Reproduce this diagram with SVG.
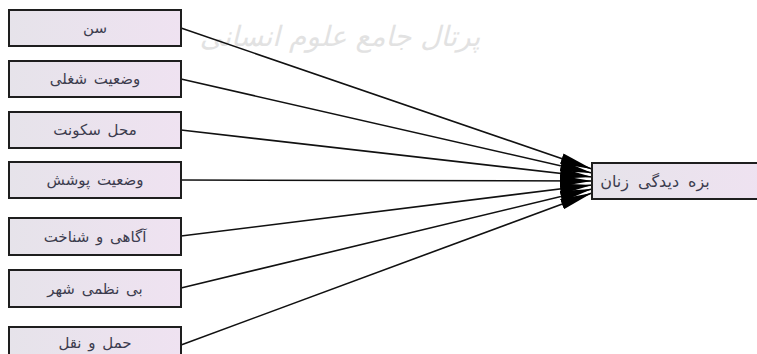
<svg xmlns="http://www.w3.org/2000/svg" width="757" height="354" viewBox="0 0 757 354">
<defs>
<linearGradient id="boxfill" x1="0" y1="0" x2="1" y2="0">
<stop offset="0" stop-color="#e6e3ea"/>
<stop offset="1" stop-color="#efe2f1"/>
</linearGradient>
<marker id="arr" viewBox="0 0 32 11" markerWidth="32" markerHeight="11" markerUnits="userSpaceOnUse" refX="32" refY="5.5" orient="auto">
<path d="M0,0 L32,5.5 L0,11 z" fill="#000"/>
</marker>
</defs>
<style>
.box{fill:url(#boxfill);stroke:#1e1e1e;stroke-width:2}
.lbl{font-family:"DejaVu Sans",sans-serif;font-size:15px;fill:#3c3c4e;text-anchor:middle;word-spacing:2px}
.conn{stroke:#111;stroke-width:1.6;fill:none;marker-end:url(#arr)}
.wm{font-family:"DejaVu Sans",sans-serif;font-size:28px;fill:#e2e2e2;text-anchor:middle;font-style:italic}
</style>
<rect width="757" height="354" fill="#ffffff"/>
<text class="wm" x="340" y="46" direction="rtl">پرتال جامع علوم انسانی</text>
<g id="connectors">
<line class="conn" x1="181" y1="28" x2="592" y2="169"/>
<line class="conn" x1="181" y1="79" x2="592" y2="173"/>
<line class="conn" x1="181" y1="130" x2="592" y2="177"/>
<line class="conn" x1="181" y1="180" x2="592" y2="181"/>
<line class="conn" x1="181" y1="236" x2="592" y2="185"/>
<line class="conn" x1="181" y1="288" x2="592" y2="189"/>
<line class="conn" x1="181" y1="345" x2="592" y2="193"/>
</g>
<g id="n1"><rect class="box" x="9" y="10" width="172" height="36"/><text class="lbl" x="95" y="33" direction="rtl">سن</text></g>
<g id="n2"><rect class="box" x="9" y="61" width="172" height="36"/><text class="lbl" x="95" y="84" direction="rtl">وضعیت شغلی</text></g>
<g id="n3"><rect class="box" x="9" y="112" width="172" height="36"/><text class="lbl" x="95" y="135" direction="rtl">محل سکونت</text></g>
<g id="n4"><rect class="box" x="9" y="162" width="172" height="36"/><text class="lbl" x="95" y="185" direction="rtl">وضعیت پوشش</text></g>
<g id="n5"><rect class="box" x="9" y="218" width="172" height="37"/><text class="lbl" x="95" y="242" direction="rtl">آگاهی و شناخت</text></g>
<g id="n6"><rect class="box" x="9" y="270" width="172" height="37"/><text class="lbl" x="95" y="294" direction="rtl">بی نظمی شهر</text></g>
<g id="n7"><rect class="box" x="9" y="327" width="172" height="36"/><text class="lbl" x="95" y="348" direction="rtl">حمل و نقل</text></g>
<g id="target"><rect class="box" x="592" y="163" width="175" height="36"/><text class="lbl" x="655" y="187" direction="rtl" style="font-size:16px;word-spacing:4px">بزه دیدگی زنان</text></g>
</svg>
